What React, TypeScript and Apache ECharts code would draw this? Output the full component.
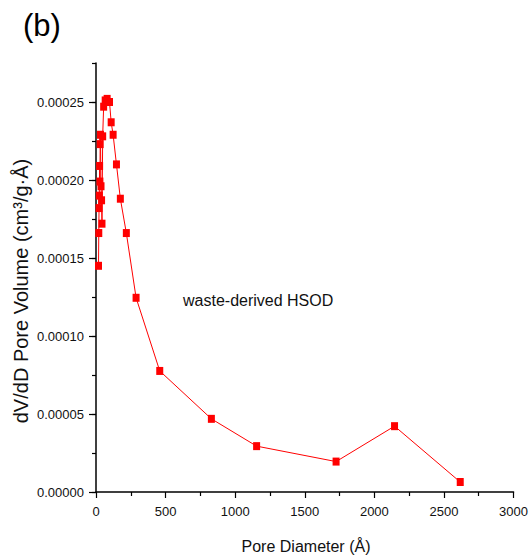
import React, { useEffect, useRef } from "react";
import * as echarts from "echarts";

const poreDiameter = [18, 20, 22, 24, 26, 28, 30, 32, 36, 40, 43, 48, 55, 66, 80, 97, 109, 123, 147, 175, 218, 288, 458, 829, 1154, 1725, 2145, 2617];
const poreVolume = [
  0.000145, 0.000166, 0.000182, 0.00019, 0.000209, 0.000199, 0.000223, 0.000229, 0.000196, 0.000187, 0.000172,
  0.000228, 0.000247, 0.000251, 0.000252, 0.00025, 0.000237, 0.000229, 0.00021, 0.000188, 0.000166, 0.0001245,
  0.0000776, 0.0000469, 0.0000294, 0.0000195, 0.0000422, 0.0000064,
];
const yMajorTicks = [0, 0.00005, 0.0001, 0.00015, 0.0002, 0.00025];
const xTickStep = 500;
const seriesName = "waste-derived HSOD";
const xTitle = "Pore Diameter (Å)";
const yTitle = "dV/dD Pore Volume (cm³/g·Å)";
const panelLabel = "(b)";

const FONT = "'Liberation Sans', Arial, sans-serif";

export default function App() {
  const ref = useRef<HTMLDivElement>(null);
  useEffect(() => {
    const chart = echarts.init(ref.current!, null, { renderer: "svg" });
    const data = poreDiameter.map((x, i) => [x, poreVolume[i]]);
    chart.setOption({
      animation: false,
      backgroundColor: "#ffffff",
      grid: { left: 96, right: 14, top: 63, bottom: 63, containLabel: false },
      xAxis: {
        type: "value",
        min: 0,
        max: 3000,
        interval: xTickStep,
        axisLine: { show: true, lineStyle: { color: "#000", width: 1.5 } },
        axisTick: { show: true, length: 6, lineStyle: { color: "#000", width: 1.2 } },
        minorTick: { show: true, splitNumber: 2, length: 4, lineStyle: { color: "#000", width: 1.2 } },
        splitLine: { show: false },
        axisLabel: {
          color: "#111",
          fontSize: 13,
          fontFamily: FONT,
          margin: 13,
          formatter: (v: number) => String(v),
        },
      },
      yAxis: [
        {
          type: "value",
          min: 0,
          max: 0.000275,
          interval: 0.00005,
          axisLine: { show: true, lineStyle: { color: "#000", width: 1.5 } },
          axisTick: { show: true, length: 7, customValues: yMajorTicks, lineStyle: { color: "#000", width: 1.2 } },
          splitLine: { show: false },
          axisLabel: {
            color: "#111",
            fontSize: 13,
            fontFamily: FONT,
            margin: 12,
            customValues: yMajorTicks,
            formatter: (v: number) => v.toFixed(5),
          },
        },
        {
          type: "value",
          position: "left",
          min: 0,
          max: 0.000275,
          interval: 0.000025,
          axisLine: { show: false },
          axisTick: { show: true, length: 4, lineStyle: { color: "#000", width: 1.2 } },
          axisLabel: { show: false },
          splitLine: { show: false },
        },
      ],
      graphic: [
        {
          type: "text",
          left: 23,
          top: 10,
          style: { text: panelLabel, fontSize: 31, fontFamily: FONT, fill: "#000" },
        },
        {
          type: "text",
          left: 183,
          top: 292,
          style: { text: seriesName, fontSize: 16, fontFamily: FONT, fill: "#111" },
        },
        {
          type: "text",
          x: 306,
          y: 546,
          style: { text: xTitle, fontSize: 16, fontFamily: FONT, fill: "#111", align: "center", verticalAlign: "middle" },
        },
        {
          type: "text",
          x: 21,
          y: 291,
          rotation: Math.PI / 2,
          style: { text: yTitle, fontSize: 20, fontFamily: FONT, fill: "#111", align: "center", verticalAlign: "middle" },
        },
      ],
      series: [
        {
          type: "line",
          name: seriesName,
          data,
          symbol: "rect",
          symbolSize: [7, 8],
          itemStyle: { color: "#ff0000" },
          lineStyle: { color: "#ff0000", width: 1 },
          z: 3,
        },
      ],
    });
    return () => chart.dispose();
  }, []);
  return (
    <div
      ref={ref}
      style={{ position: "fixed", left: 0, top: 0, width: 531, height: 555, background: "#fff" }}
    />
  );
}
